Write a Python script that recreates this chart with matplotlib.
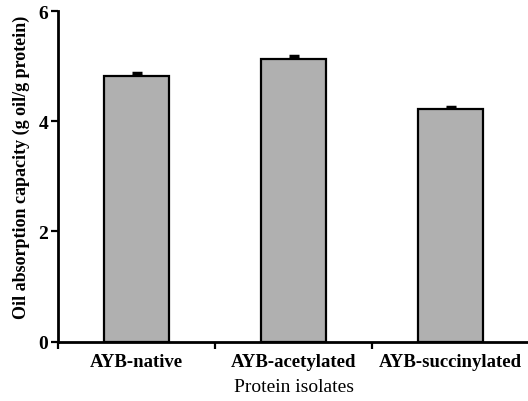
import matplotlib.pyplot as plt
import numpy as np

isolates = ["AYB-native", "AYB-acetylated", "AYB-succinylated"]
oil_capacity = [4.82, 5.13, 4.22]
oil_err = [0.06, 0.05, 0.03]

plt.rcParams['font.family'] = ['Liberation Serif', 'DejaVu Serif']

fig = plt.figure(figsize=(5.28, 4.02), dpi=100)
ax = fig.add_axes([0.110, 0.148, 0.892, 0.822])

x = np.arange(len(isolates))
ax.bar(x, oil_capacity, width=0.41, color='#b0b0b0', edgecolor='black', linewidth=1.6, zorder=2)
ax.errorbar(x, oil_capacity, yerr=[np.zeros(len(x)), oil_err], fmt='none', ecolor='black',
            elinewidth=1.5, capsize=3.5, capthick=2.5, zorder=1)

ax.set_xlim(-0.5, 2.5)
ax.set_ylim(0, 6)
ax.set_yticks([0, 2, 4, 6])
ax.set_yticklabels(["0", "2", "4", "6"], fontweight='bold', fontsize=14)

# ticks between categories, labels at centres
ax.set_xticks([-0.5, 0.5, 1.5])
ax.set_xticklabels([])
ax.set_xticks(x, minor=True)
ax.set_xticklabels(isolates, minor=True, fontweight='bold', fontsize=13.5)
ax.tick_params(axis='x', which='minor', length=0, pad=8)
ax.tick_params(axis='x', which='major', direction='out', length=5, width=1.6)
ax.tick_params(axis='y', direction='out', length=5, width=1.6, pad=2)

for side in ['top', 'right']:
    ax.spines[side].set_visible(False)
for side in ['left', 'bottom']:
    ax.spines[side].set_linewidth(2)

ax.set_xlabel("Protein isolates", fontsize=14, labelpad=6)
ax.set_ylabel("Oil absorption capacity (g oil/g protein)", fontsize=13, fontweight='bold')
ax.yaxis.set_label_coords(-0.06, 0.53)

fig.savefig("out.png", dpi=100)
